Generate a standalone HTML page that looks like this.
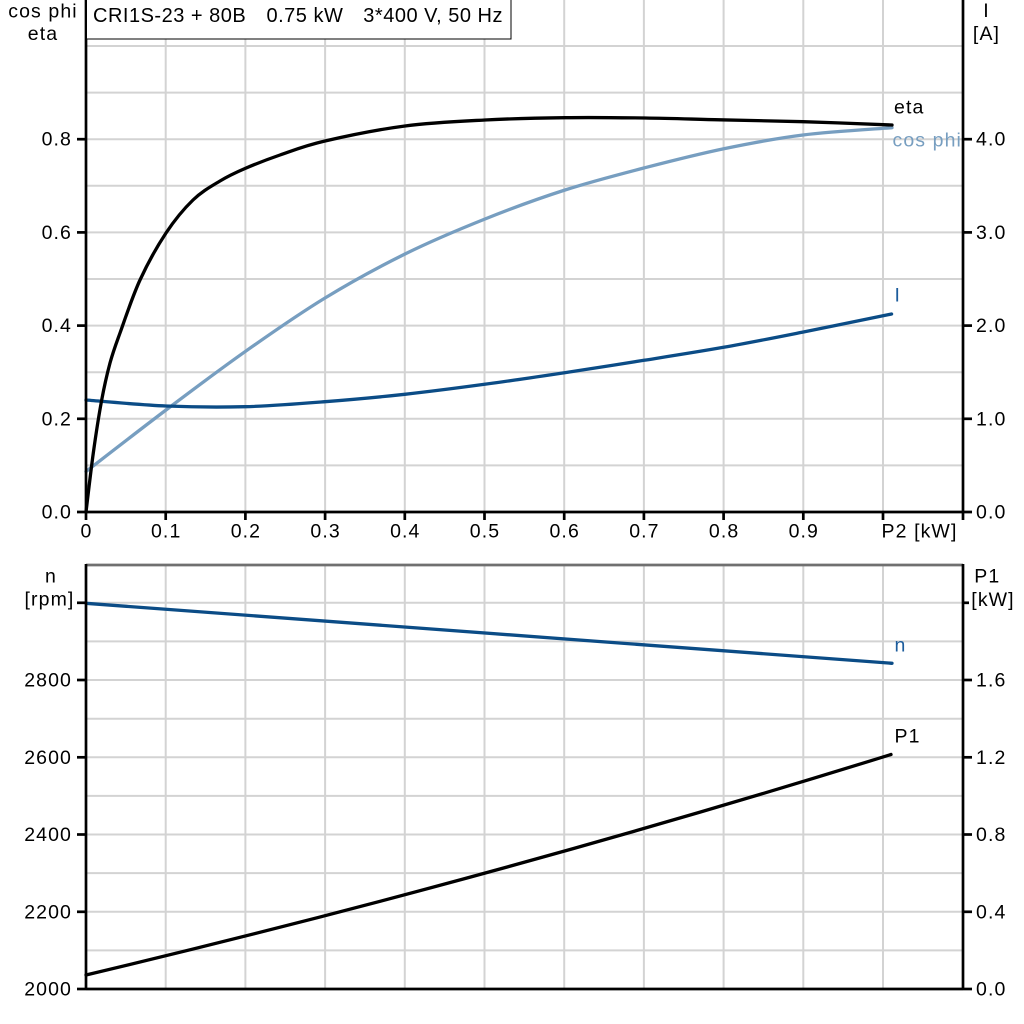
<!DOCTYPE html>
<html>
<head>
<meta charset="utf-8">
<style>
  html, body { margin: 0; padding: 0; background: #ffffff; }
  body { width: 1024px; height: 1024px; overflow: hidden; }
  svg { display: block; }
  text { font-family: "Liberation Sans", Arial, sans-serif; }
  .lbl { font-size: 19.5px; letter-spacing: 1.1px; fill: #000; }
  .ttl { font-size: 20px; letter-spacing: 0.5px; fill: #000; }
</style>
</head>
<body>
<svg width="1024" height="1024" viewBox="0 0 1024 1024" xmlns="http://www.w3.org/2000/svg">
  <defs>
    <clipPath id="topclip"><rect x="86" y="0" width="876" height="512"/></clipPath>
  </defs>
  <rect x="0" y="0" width="1024" height="1024" fill="#ffffff"/>

  <!-- ===== TOP PANEL GRID ===== -->
  <g stroke="#d3d3d3" stroke-width="2" fill="none">
    <line x1="165.7" y1="0" x2="165.7" y2="512"/>
    <line x1="245.4" y1="0" x2="245.4" y2="512"/>
    <line x1="325.1" y1="0" x2="325.1" y2="512"/>
    <line x1="404.8" y1="0" x2="404.8" y2="512"/>
    <line x1="484.5" y1="0" x2="484.5" y2="512"/>
    <line x1="564.2" y1="0" x2="564.2" y2="512"/>
    <line x1="643.9" y1="0" x2="643.9" y2="512"/>
    <line x1="723.6" y1="0" x2="723.6" y2="512"/>
    <line x1="803.3" y1="0" x2="803.3" y2="512"/>
    <line x1="883" y1="0" x2="883" y2="512"/>
    <line x1="86" y1="465.4" x2="963" y2="465.4"/>
    <line x1="86" y1="418.8" x2="963" y2="418.8"/>
    <line x1="86" y1="372.2" x2="963" y2="372.2"/>
    <line x1="86" y1="325.6" x2="963" y2="325.6"/>
    <line x1="86" y1="279" x2="963" y2="279"/>
    <line x1="86" y1="232.4" x2="963" y2="232.4"/>
    <line x1="86" y1="185.8" x2="963" y2="185.8"/>
    <line x1="86" y1="139.2" x2="963" y2="139.2"/>
    <line x1="86" y1="92.6" x2="963" y2="92.6"/>
    <line x1="86" y1="46" x2="963" y2="46"/>
  </g>

  <!-- ===== BOTTOM PANEL GRID ===== -->
  <g stroke="#d3d3d3" stroke-width="2" fill="none">
    <line x1="165.7" y1="565" x2="165.7" y2="989"/>
    <line x1="245.4" y1="565" x2="245.4" y2="989"/>
    <line x1="325.1" y1="565" x2="325.1" y2="989"/>
    <line x1="404.8" y1="565" x2="404.8" y2="989"/>
    <line x1="484.5" y1="565" x2="484.5" y2="989"/>
    <line x1="564.2" y1="565" x2="564.2" y2="989"/>
    <line x1="643.9" y1="565" x2="643.9" y2="989"/>
    <line x1="723.6" y1="565" x2="723.6" y2="989"/>
    <line x1="803.3" y1="565" x2="803.3" y2="989"/>
    <line x1="883" y1="565" x2="883" y2="989"/>
    <line x1="86" y1="950.4" x2="963" y2="950.4"/>
    <line x1="86" y1="911.8" x2="963" y2="911.8"/>
    <line x1="86" y1="873.1" x2="963" y2="873.1"/>
    <line x1="86" y1="834.5" x2="963" y2="834.5"/>
    <line x1="86" y1="795.9" x2="963" y2="795.9"/>
    <line x1="86" y1="757.3" x2="963" y2="757.3"/>
    <line x1="86" y1="718.7" x2="963" y2="718.7"/>
    <line x1="86" y1="680" x2="963" y2="680"/>
    <line x1="86" y1="641.4" x2="963" y2="641.4"/>
    <line x1="86" y1="602.8" x2="963" y2="602.8"/>
  </g>

  <!-- ===== TOP PANEL CURVES ===== -->
  <g fill="none" stroke-width="3.3" stroke-linejoin="round" stroke-linecap="round">
    <!-- cos phi -->
    <path stroke="#779ec0" d="M86,471.5 C99.3,461.25 139.5,430 166,410 C192.5,390 218.5,370.4 245,351.7 C271.5,333 298.3,314.3 325,298 C351.7,281.7 378.3,267.2 405,254 C431.7,240.8 458.3,229.7 485,219 C511.7,208.3 538.3,198.55 565,190 C591.7,181.45 618.3,174.6 645,167.7 C671.7,160.8 698.7,153.95 725,148.5 C751.3,143.05 775.2,138.5 803,135 C830.8,131.5 877.2,128.9 892,127.7"/>
    <!-- I -->
    <path stroke="#0b4c86" d="M86,400 C99.3,401 139.5,404.9 166,406 C192.5,407.1 218.5,407.4 245,406.7 C271.5,406 298.4,403.8 325,401.7 C351.6,399.6 378.1,397.2 404.7,394.3 C431.3,391.4 458,387.9 484.6,384.3 C511.2,380.7 537.9,376.7 564.5,372.7 C591.1,368.7 617.5,364.5 644,360.3 C670.5,356.1 697,352 723.6,347.3 C750.2,342.6 775.4,337.55 803.4,332 C831.4,326.45 876.9,317 891.6,314"/>
    <!-- eta -->
    <path stroke="#000000" d="M86,512 C87.2,502.2 90.7,471.7 93.3,453 C95.9,434.3 98.9,415 101.7,400 C104.5,385 107,374.2 110,363 C113.05,351.8 115,346.8 120,333 C125,319.2 132.3,296.7 140,280 C147.7,263.3 157.2,246.3 166,233 C174.8,219.7 184,208.7 193,200 C202,191.3 211.3,186.25 220,181 C228.7,175.75 235,172.8 245,168.5 C255,164.2 266.7,159.6 280,155 C293.3,150.4 304.2,145.8 325,141 C345.8,136.2 378.3,129.5 405,126 C431.7,122.5 458.3,121.4 485,120 C511.7,118.6 538.3,118 565,117.7 C591.7,117.3 619.2,117.65 645,118 C670.8,118.35 693.7,119.2 720,119.8 C746.3,120.4 774.3,120.8 803,121.7 C831.7,122.6 877.2,124.45 892,125"/>
  </g>

  <!-- curve labels top -->
  <text class="lbl" x="894" y="113.3">eta</text>
  <g clip-path="url(#topclip)">
    <text class="lbl" x="892.5" y="146.7" style="fill:#779ec0">cos phi</text>
  </g>
  <text class="lbl" x="894.5" y="301.7" style="fill:#1c5c9c">I</text>

  <!-- ===== BOTTOM PANEL CURVES ===== -->
  <g fill="none" stroke-width="3.3" stroke-linecap="round">
    <path stroke="#0b4c86" d="M86,603.3 L892,663.3"/>
    <path stroke="#000000" d="M86,975 Q488.5,879.5 891,754.5"/>
  </g>
  <text class="lbl" x="894.5" y="651.7" style="fill:#1c5c9c">n</text>
  <text class="lbl" x="894.5" y="742.3">P1</text>

  <!-- ===== TOP PANEL AXES ===== -->
  <g stroke="#000" stroke-width="2.7" fill="none">
    <line x1="86" y1="0" x2="86" y2="513"/>
    <line x1="963" y1="0" x2="963" y2="520"/>
    <line x1="77" y1="512" x2="972" y2="512"/>
    <!-- left ticks -->
    <line x1="77" y1="418.8" x2="86" y2="418.8"/>
    <line x1="77" y1="325.6" x2="86" y2="325.6"/>
    <line x1="77" y1="232.4" x2="86" y2="232.4"/>
    <line x1="77" y1="139.2" x2="86" y2="139.2"/>
    <!-- right ticks -->
    <line x1="963" y1="418.8" x2="972" y2="418.8"/>
    <line x1="963" y1="325.6" x2="972" y2="325.6"/>
    <line x1="963" y1="232.4" x2="972" y2="232.4"/>
    <line x1="963" y1="139.2" x2="972" y2="139.2"/>
    <!-- x ticks -->
    <line x1="86" y1="512" x2="86" y2="520"/>
    <line x1="165.7" y1="512" x2="165.7" y2="520"/>
    <line x1="245.4" y1="512" x2="245.4" y2="520"/>
    <line x1="325.1" y1="512" x2="325.1" y2="520"/>
    <line x1="404.8" y1="512" x2="404.8" y2="520"/>
    <line x1="484.5" y1="512" x2="484.5" y2="520"/>
    <line x1="564.2" y1="512" x2="564.2" y2="520"/>
    <line x1="643.9" y1="512" x2="643.9" y2="520"/>
    <line x1="723.6" y1="512" x2="723.6" y2="520"/>
    <line x1="803.3" y1="512" x2="803.3" y2="520"/>
    <line x1="883" y1="512" x2="883" y2="520"/>
  </g>

  <!-- top left tick labels -->
  <g text-anchor="end">
    <text class="lbl" x="72" y="518.5">0.0</text>
    <text class="lbl" x="72" y="425.3">0.2</text>
    <text class="lbl" x="72" y="332.1">0.4</text>
    <text class="lbl" x="72" y="238.9">0.6</text>
    <text class="lbl" x="72" y="145.7">0.8</text>
  </g>
  <!-- top right tick labels -->
  <text class="lbl" x="976" y="518.5">0.0</text>
  <text class="lbl" x="976" y="425.3">1.0</text>
  <text class="lbl" x="976" y="332.1">2.0</text>
  <text class="lbl" x="976" y="238.9">3.0</text>
  <text class="lbl" x="976" y="145.7">4.0</text>

  <!-- x tick labels -->
  <g text-anchor="middle">
    <text class="lbl" x="86.5" y="537.5">0</text>
    <text class="lbl" x="166.2" y="537.5">0.1</text>
    <text class="lbl" x="245.9" y="537.5">0.2</text>
    <text class="lbl" x="325.6" y="537.5">0.3</text>
    <text class="lbl" x="405.3" y="537.5">0.4</text>
    <text class="lbl" x="485" y="537.5">0.5</text>
    <text class="lbl" x="564.7" y="537.5">0.6</text>
    <text class="lbl" x="644.4" y="537.5">0.7</text>
    <text class="lbl" x="724.1" y="537.5">0.8</text>
    <text class="lbl" x="803.8" y="537.5">0.9</text>
  </g>
  <text class="lbl" x="881.5" y="537.5">P2 [kW]</text>

  <!-- axis titles top -->
  <g text-anchor="middle">
    <text class="lbl" x="43" y="17.5">cos phi</text>
    <text class="lbl" x="43" y="40">eta</text>
    <text class="lbl" x="986.5" y="17">I</text>
    <text class="lbl" x="986.5" y="40">[A]</text>
  </g>

  <!-- title box -->
  <rect x="86.5" y="-1" width="424.5" height="40" fill="#ffffff" stroke="#000" stroke-width="1"/>
  <text class="ttl" x="93" y="22">CRI1S-23 + 80B</text>
  <text class="ttl" x="266.5" y="22">0.75 kW</text>
  <text class="ttl" x="363.3" y="22">3*400 V, 50 Hz</text>

  <!-- ===== BOTTOM PANEL AXES ===== -->
  <line x1="86" y1="565" x2="963" y2="565" stroke="#707070" stroke-width="2.7"/>
  <g stroke="#000" stroke-width="2.7" fill="none">
    <line x1="86" y1="564" x2="86" y2="990"/>
    <line x1="963" y1="564" x2="963" y2="990"/>
    <line x1="86" y1="989" x2="963" y2="989"/>
    <!-- left ticks -->
    <line x1="77" y1="989" x2="86" y2="989"/>
    <line x1="77" y1="911.8" x2="86" y2="911.8"/>
    <line x1="77" y1="834.5" x2="86" y2="834.5"/>
    <line x1="77" y1="757.3" x2="86" y2="757.3"/>
    <line x1="77" y1="680" x2="86" y2="680"/>
    <line x1="77" y1="602.8" x2="86" y2="602.8"/>
    <!-- right ticks -->
    <line x1="963" y1="989" x2="972" y2="989"/>
    <line x1="963" y1="911.8" x2="972" y2="911.8"/>
    <line x1="963" y1="834.5" x2="972" y2="834.5"/>
    <line x1="963" y1="757.3" x2="972" y2="757.3"/>
    <line x1="963" y1="680" x2="972" y2="680"/>
    <line x1="963" y1="602.8" x2="969" y2="602.8"/>
  </g>

  <!-- bottom left tick labels -->
  <g text-anchor="end">
    <text class="lbl" x="72" y="995.5">2000</text>
    <text class="lbl" x="72" y="918.3">2200</text>
    <text class="lbl" x="72" y="841">2400</text>
    <text class="lbl" x="72" y="763.8">2600</text>
    <text class="lbl" x="72" y="686.5">2800</text>
  </g>
  <g text-anchor="middle">
    <text class="lbl" x="51" y="582.7">n</text>
    <text class="lbl" x="49.5" y="605.5">[rpm]</text>
    <text class="lbl" x="987.3" y="582.7">P1</text>
    <text class="lbl" x="993" y="606">[kW]</text>
  </g>

  <!-- bottom right tick labels -->
  <text class="lbl" x="976" y="995.5">0.0</text>
  <text class="lbl" x="976" y="918.3">0.4</text>
  <text class="lbl" x="976" y="841">0.8</text>
  <text class="lbl" x="976" y="763.8">1.2</text>
  <text class="lbl" x="976" y="686.5">1.6</text>
</svg>
</body>
</html>
